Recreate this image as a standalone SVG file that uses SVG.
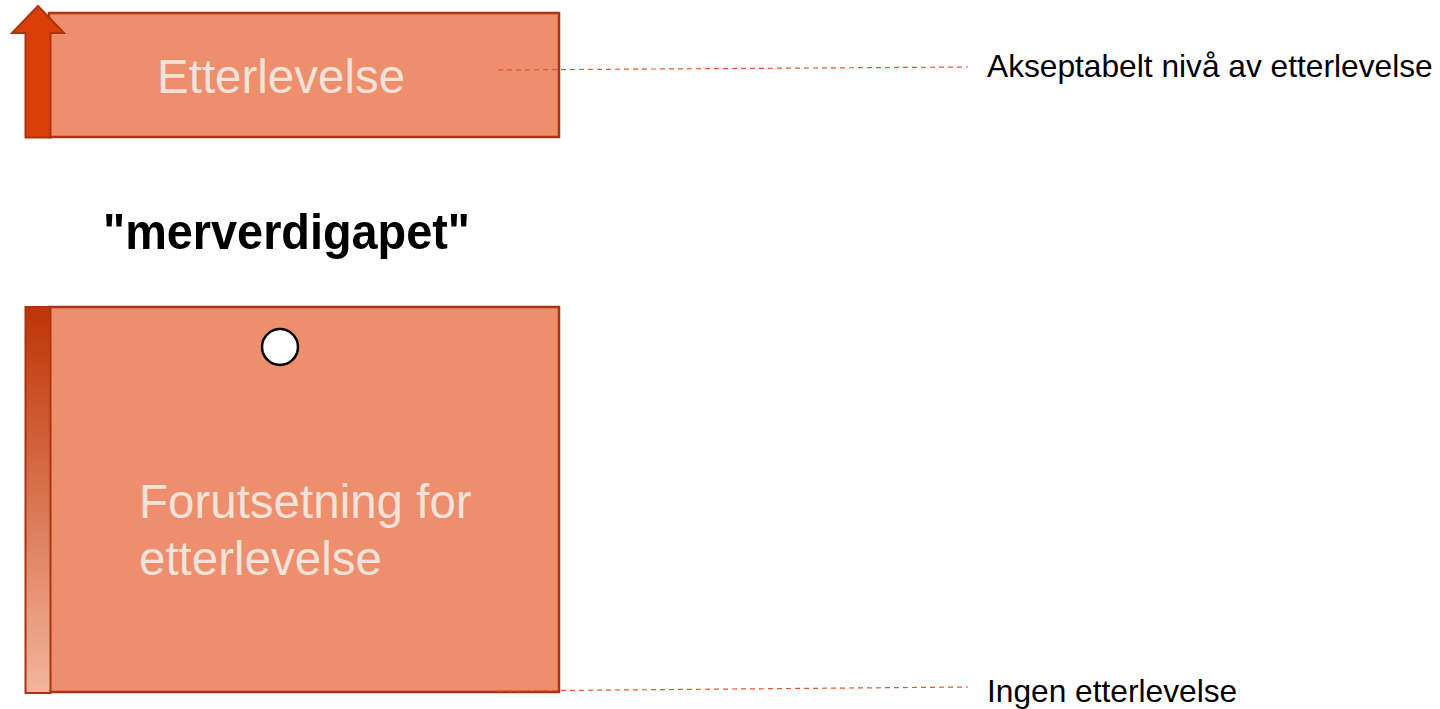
<svg xmlns="http://www.w3.org/2000/svg" width="1440" height="709" viewBox="0 0 1440 709">
<style>
.box{fill:#EF8E6C;stroke:#A8350F;stroke-width:2.5}
.lbl{font-family:"Liberation Sans",Arial,sans-serif;fill:#F1E2DA;font-size:47.5px}
.side{font-family:"Liberation Sans",Arial,sans-serif;font-size:31.7px;fill:#000}
.dash{stroke:#E2582A;stroke-width:1.2;stroke-dasharray:5 4;fill:none}
</style>
<defs>
<linearGradient id="bar" x1="0" y1="0" x2="0" y2="1">
<stop offset="0" stop-color="#BE3405"/>
<stop offset="1" stop-color="#F3B59C"/>
</linearGradient>
</defs>
<rect width="1440" height="709" fill="#fff"/>
<g id="top-box">
<rect class="box" x="49" y="13" width="510" height="124"/>
<text class="lbl" x="157" y="93">Etterlevelse</text>
</g>
<g id="arrow">
<path d="M25.5,137.5 V33 H12 L38,6 L64,33 H50.5 V137.5 Z" fill="#DB3E08" stroke="#A8350F" stroke-width="2"/>
</g>
<g id="gap-label">
<text x="103" y="249" textLength="367" lengthAdjust="spacingAndGlyphs" font-family="'Liberation Sans',Arial,sans-serif" font-weight="bold" font-size="50" fill="#000">"merverdigapet"</text>
</g>
<g id="bottom-box">
<rect class="box" x="49" y="307" width="510" height="385"/>
<text class="lbl" x="139" y="518">Forutsetning for</text>
<text class="lbl" x="139" y="575">etterlevelse</text>
<circle cx="280" cy="347" r="18" fill="#fff" stroke="#000" stroke-width="2.5"/>
</g>
<g id="bar">
<rect x="25.5" y="307" width="25" height="386" fill="url(#bar)" stroke="#A8350F" stroke-width="2"/>
</g>
<g id="connectors">
<line class="dash" x1="498" y1="70" x2="968" y2="67"/>
<line class="dash" x1="498" y1="691" x2="968" y2="687"/>
</g>
<g id="labels">
<text class="side" x="987" y="77">Akseptabelt nivå av etterlevelse</text>
<text class="side" x="987" y="702">Ingen etterlevelse</text>
</g>
</svg>
